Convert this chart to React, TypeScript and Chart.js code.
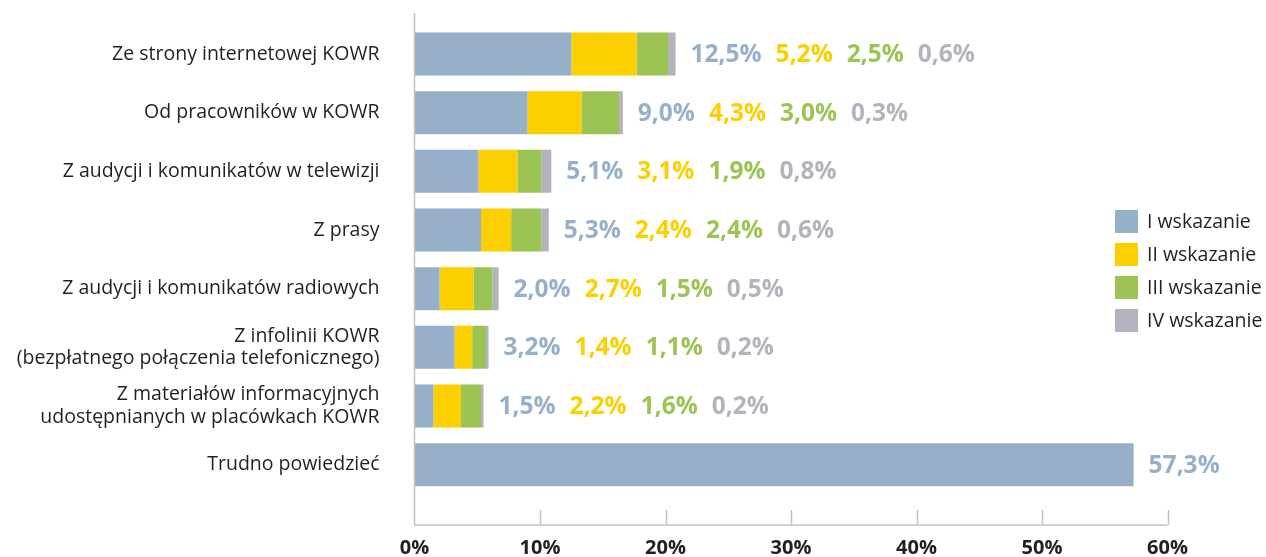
import React, { useEffect, useRef } from 'react';
import { Chart, registerables } from 'chart.js';

Chart.register(...registerables);

const categories: (string | string[])[] = [
  'Ze strony internetowej KOWR',
  'Od pracowników w KOWR',
  'Z audycji i komunikatów w telewizji',
  'Z prasy',
  'Z audycji i komunikatów radiowych',
  ['Z infolinii KOWR', '(bezpłatnego połączenia telefonicznego)'],
  ['Z materiałów informacyjnych', 'udostępnianych w placówkach KOWR'],
  'Trudno powiedzieć',
];
const seriesNames = ['I wskazanie', 'II wskazanie', 'III wskazanie', 'IV wskazanie'];
const wskazanie1 = [12.5, 9.0, 5.1, 5.3, 2.0, 3.2, 1.5, 57.3];
const wskazanie2 = [5.2, 4.3, 3.1, 2.4, 2.7, 1.4, 2.2, null];
const wskazanie3 = [2.5, 3.0, 1.9, 2.4, 1.5, 1.1, 1.6, null];
const wskazanie4 = [0.6, 0.3, 0.8, 0.6, 0.5, 0.2, 0.2, null];
const xMin = 0;
const xMax = 60;
const xStep = 10;
const seriesColors = ['#97b0ca', '#fccf00', '#9bc454', '#b3b3bd'];

const series = [wskazanie1, wskazanie2, wskazanie3, wskazanie4];
const FONT = '"Open Sans", "Noto Sans", sans-serif';
const TEXT = '#231f20';

const overlay = {
  id: 'overlay',
  afterDraw(chart: any) {
    const { ctx, scales } = chart;
    const x = scales.x;
    ctx.save();
    const x0 = x.getPixelForValue(xMin);
    const x1 = x.getPixelForValue(xMax);
    const axisY = 525;
    ctx.strokeStyle = '#c2c2c2';
    ctx.lineWidth = 1.5;
    ctx.beginPath();
    ctx.moveTo(x0, 13);
    ctx.lineTo(x0, axisY);
    ctx.lineTo(x1, axisY);
    ctx.stroke();
    for (let v = xMin + xStep; v <= xMax; v += xStep) {
      const px = Math.round(x.getPixelForValue(v)) + 0.5;
      ctx.beginPath();
      ctx.moveTo(px, axisY - 15);
      ctx.lineTo(px, axisY);
      ctx.stroke();
    }

    // value labels
    ctx.font = `bold 24.5px ${FONT}`;
    ctx.textBaseline = 'middle';
    ctx.textAlign = 'left';
    const meta = chart.getDatasetMeta(0);
    categories.forEach((_, i) => {
      let total = 0;
      series.forEach((s) => (total += (s[i] as number) ?? 0));
      let px = x.getPixelForValue(total) + 15;
      const cy = meta.data[i].y + 1;
      series.forEach((s, k) => {
        const v = s[i];
        if (v == null) return;
        const t = (v as number).toFixed(1).replace('.', ',') + '%';
        ctx.fillStyle = seriesColors[k];
        ctx.fillText(t, px, cy);
        px += ctx.measureText(t).width + 14;
      });
    });

    // legend
    ctx.font = `19.5px ${FONT}`;
    seriesNames.forEach((name, k) => {
      const top = 210 + k * 33;
      ctx.fillStyle = seriesColors[k];
      ctx.fillRect(1115, top, 23, 23);
      ctx.fillStyle = TEXT;
      ctx.fillText(name, 1147, top + 12);
    });
    ctx.restore();
  },
};

export default function App() {
  const ref = useRef<HTMLCanvasElement | null>(null);
  useEffect(() => {
    document.body.style.margin = '0';
    const canvas = ref.current;
    if (!canvas) return;
    const chart = new Chart(canvas, {
      type: 'bar',
      data: {
        labels: categories as any,
        datasets: series.map((s, k) => ({
          label: seriesNames[k],
          data: s as any,
          backgroundColor: seriesColors[k],
          borderWidth: 0,
          categoryPercentage: 1,
          barPercentage: 0.733,
        })),
      },
      options: {
        indexAxis: 'y',
        responsive: false,
        animation: false,
        devicePixelRatio: 1,
        layout: { padding: { left: 0, right: 98.5, top: 24.7, bottom: 0 } },
        plugins: {
          legend: { display: false },
          tooltip: { enabled: false },
        },
        scales: {
          x: {
            type: 'linear',
            stacked: true,
            min: xMin,
            max: xMax,
            grid: { display: false, drawTicks: false },
            border: { display: false },
            ticks: {
              stepSize: xStep,
              callback: (v: any) => `${v}%`,
              font: { family: FONT, size: 20, weight: 'bold' },
              color: TEXT,
              padding: 42,
              maxRotation: 0,
            },
            afterFit: (s: any) => {
              s.height = 63;
              s.paddingLeft = 0;
              s.paddingRight = 0;
            },
          },
          y: {
            type: 'category',
            stacked: true,
            grid: { display: false, drawTicks: false },
            border: { display: false },
            ticks: {
              font: { family: FONT, size: 19.5, lineHeight: 1.15 },
              color: TEXT,
              padding: 35,
              autoSkip: false,
            },
            afterFit: (s: any) => {
              s.width = 414.5;
              s.paddingTop = 0;
              s.paddingBottom = 0;
            },
          },
        },
      } as any,
      plugins: [overlay],
    });
    return () => chart.destroy();
  }, []);
  return (
    <div style={{ width: 1266, height: 557 }}>
      <canvas ref={ref} width={1266} height={557} style={{ display: 'block' }} />
    </div>
  );
}
